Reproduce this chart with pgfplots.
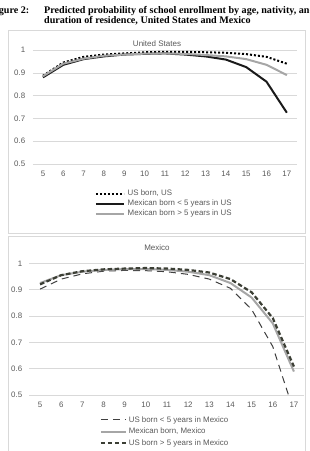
\documentclass[border=0pt]{standalone}
\usepackage{fontspec}
\setmainfont{Liberation Sans}
\newfontfamily\titlefont{Liberation Serif}
\usepackage{pgfplots}
\pgfplotsset{compat=1.18}
\usepackage{pgfplotstable}

\definecolor{txt}{HTML}{595959}
\definecolor{gridc}{HTML}{D9D9D9}
\definecolor{framec}{HTML}{D9D9D9}
\definecolor{dk}{HTML}{1A1A1A}
\definecolor{lg}{HTML}{A6A6A6}
\definecolor{dg}{HTML}{404040}
\definecolor{ol}{HTML}{3B3E34}

% Predicted probabilities, United States
\pgfplotstableread{
age usborn mexlt mexgt
5  0.887 0.880 0.885
6  0.945 0.935 0.940
7  0.970 0.960 0.962
8  0.980 0.972 0.975
9  0.985 0.980 0.980
10 0.990 0.983 0.984
11 0.992 0.985 0.985
12 0.992 0.980 0.983
13 0.990 0.972 0.978
14 0.988 0.958 0.972
15 0.982 0.925 0.960
16 0.970 0.861 0.935
17 0.940 0.725 0.890
}\ustab

% Predicted probabilities, Mexico
\pgfplotstableread{
age uslt mexborn usgt
5  0.902 0.925 0.920
6  0.940 0.955 0.955
7  0.960 0.968 0.970
8  0.970 0.975 0.977
9  0.973 0.978 0.980
10 0.972 0.978 0.982
11 0.968 0.975 0.980
12 0.958 0.968 0.975
13 0.940 0.955 0.965
14 0.905 0.925 0.940
15 0.825 0.870 0.890
16 0.684 0.772 0.792
17 0.436 0.589 0.608
}\mxtab

\pgfplotsset{
  chart/.style={
    scale only axis,
    xmin=4.5, xmax=17.5, ymin=0.5, ymax=1,
    xtick={5,...,17},
    ytick={0.5,0.6,0.7,0.8,0.9,1},
    yticklabels={0.5,0.6,0.7,0.8,0.9,1},
    ymajorgrids, grid style={gridc, line width=0.6pt},
    axis line style={draw=none},
    major tick length=0pt,
    /pgf/number format/assume math mode=true,
    tick label style={font=\fontsize{7.9}{9}\selectfont, text=txt},
    xticklabel style={yshift=-3.5pt},
    clip mode=individual,
    legend cell align=left,
    legend style={draw=none, fill=none, inner sep=0pt, outer sep=0pt,
      font=\fontsize{7.9}{9}\selectfont, text=txt,
      nodes={inner sep=0pt, text height=6pt, text depth=1.7pt}},
  },
}

\begin{document}
\begin{tikzpicture}[x=1pt,y=1pt]
\useasboundingbox (0,0) rectangle (309,451);
\clip (0,0) rectangle (309,451);

% heading
\begin{scope}[font=\titlefont\bfseries\fontsize{10.1}{12}\selectfont]
  \node[anchor=base east, inner sep=0pt] at (29.5,437.5) {Figure 2:};
  \node[anchor=base west, inner sep=0pt] at (44,437.5)
    {Predicted probability of school enrollment by age, nativity, and};
  \node[anchor=base west, inner sep=0pt] at (44,427.5)
    {duration of residence, United States and Mexico};
\end{scope}

% chart frames
\draw[framec, line width=0.8pt] (8,421) rectangle (305,218);
\draw[framec, line width=0.8pt] (8,215) rectangle (305,-5);

% United States
\begin{axis}[chart,
  at={(32.8pt,287pt)}, anchor=south west,
  width=264.2pt, height=114pt,
  yticklabel style={xshift=-4.1pt},
  legend image code/.code={\draw[#1] (0pt,0pt) -- (28pt,0pt);},
  legend style={at={(0.2354,-0.228)}, anchor=north west,
    /tikz/row sep=2.3pt,
    /tikz/every odd column/.append style={column sep=2.7pt}},
]
\addplot[black, line width=2pt, dash pattern=on 2pt off 2pt] table[x=age, y=usborn] {\ustab};
\addlegendentry{US born, US}
\addplot[dk, line width=2pt] table[x=age, y=mexlt] {\ustab};
\addlegendentry{Mexican born < 5 years in US}
\addplot[lg, line width=2pt] table[x=age, y=mexgt] {\ustab};
\addlegendentry{Mexican born > 5 years in US}
\end{axis}
\node[text=txt, font=\fontsize{8}{9}\selectfont] at (157,407) {United States};

% Mexico
\begin{axis}[chart,
  at={(29.5pt,56pt)}, anchor=south west,
  width=275pt, height=131.7pt,
  yticklabel style={xshift=-3.8pt},
  legend image code/.code={\draw[#1] (0pt,0pt) -- (25pt,0pt);},
  legend style={at={(0.256,-0.1595)}, anchor=north west,
    /tikz/row sep=4pt,
    /tikz/every odd column/.append style={column sep=1.7pt}},
]
\addplot[dg, line width=1pt, dash pattern=on 7pt off 5pt] table[x=age, y=uslt] {\mxtab};
\addlegendentry{US born < 5 years in Mexico}
\addplot[lg, line width=2pt] table[x=age, y=mexborn] {\mxtab};
\addlegendentry{Mexican born, Mexico}
\addplot[ol, line width=2.2pt, dash pattern=on 4.5pt off 2.5pt] table[x=age, y=usgt] {\mxtab};
\addlegendentry{US born > 5 years in Mexico}
\end{axis}
\node[text=txt, font=\fontsize{8}{9}\selectfont] at (157,203) {Mexico};
\end{tikzpicture}
\end{document}
